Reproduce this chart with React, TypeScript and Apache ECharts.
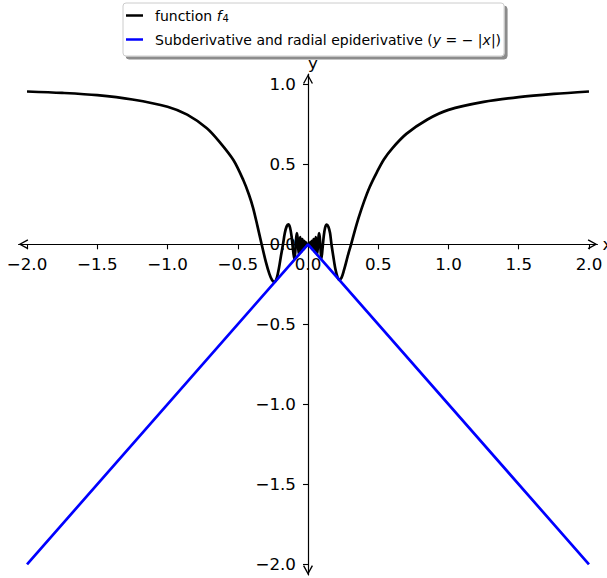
import React, { useEffect, useRef } from 'react';
import * as echarts from 'echarts';

// function f4
const f4X = [
  -2.0, -1.75, -1.5, -1.25, -1.0, -0.86, -0.72, -0.63, -0.53, -0.46, -0.42, -0.39, -0.36, -0.33,
  -0.30, -0.275, -0.255, -0.238, -0.222, -0.207, -0.192, -0.178, -0.165, -0.152, -0.14, -0.128,
  -0.117, -0.107, -0.097, -0.09, -0.084, -0.079, -0.074, -0.069, -0.064, -0.06, -0.056, -0.052,
  -0.048, -0.044, -0.04, -0.036, -0.032, -0.028, -0.024, -0.02, -0.016, -0.012, -0.008, -0.004, 0,
  0.004, 0.008, 0.012, 0.016, 0.02, 0.024, 0.028, 0.032, 0.036, 0.04, 0.044, 0.048, 0.052, 0.056,
  0.06, 0.064, 0.069, 0.074, 0.079, 0.084, 0.09, 0.095, 0.103, 0.112, 0.122, 0.133, 0.145, 0.157,
  0.167, 0.18, 0.195, 0.21, 0.223, 0.238, 0.255, 0.275, 0.29, 0.307, 0.33, 0.36, 0.40, 0.44, 0.49,
  0.54, 0.6, 0.7, 0.85, 1.0, 1.25, 1.5, 1.75, 2.0,
];
const f4Y = [
  0.955, 0.946, 0.932, 0.905, 0.86, 0.81, 0.725, 0.64, 0.525, 0.40, 0.31, 0.225, 0.115, 0.0,
  -0.11, -0.185, -0.225, -0.236, -0.21, -0.15, -0.07, 0.0, 0.07, 0.112, 0.124, 0.105,
  0.05, -0.03, -0.094, -0.04, 0.04, 0.07, 0.04, -0.03, -0.064, -0.01, 0.045, 0.02,
  -0.048, 0.0, 0.032, 0.0, -0.032, 0.022, -0.024, 0.016, -0.016, 0.01, -0.008, 0.003, 0.0,
  0.003, -0.008, 0.01, -0.016, 0.016, -0.024, 0.022, -0.032, 0.0, 0.032, 0.0, -0.048, 0.02, 0.045,
  -0.01, -0.064, -0.03, 0.04, 0.07, 0.04, -0.04, -0.092, -0.03, 0.05, 0.105, 0.123, 0.11, 0.07,
  0.0, -0.075, -0.155, -0.205, -0.222, -0.21, -0.165, -0.1, -0.05, 0.0, 0.075, 0.165, 0.27, 0.36, 0.45,
  0.53, 0.60, 0.69, 0.78, 0.84, 0.89, 0.92, 0.94, 0.955,
];

// Subderivative and radial epiderivative y = -|x|
const subX = [-2, 0, 2];
const subY = [-2, 0, -2];

const xTicks = [-2, -1.5, -1, -0.5, 0, 0.5, 1, 1.5, 2];
const yTicks = [-2, -1.5, -1, -0.5, 0, 0.5, 1];
const X_MIN = -2.06;
const X_MAX = 2.06;
const Y_MIN = -2.066;
const Y_MAX = 1.063;

const FONT = 'DejaVu Sans';
const ARROW = 'path://M5,0 L10,9 L8.8,9.7 L5,2.6 L1.2,9.7 L0,9 Z';

const fmt = (v: number) => (v < 0 ? '\u2212' + Math.abs(v).toFixed(1) : v.toFixed(1));

export default function App() {
  const ref = useRef<HTMLDivElement>(null);
  useEffect(() => {
    const chart = echarts.init(ref.current!, null, { renderer: 'svg' });
    const axisCommon = (ticks: number[]) => ({
      type: 'value',
      splitLine: { show: false },
      axisTick: { show: true, length: 5, lineStyle: { color: '#000', width: 1.1 }, customValues: ticks },
      axisLabel: {
        customValues: ticks,
        formatter: fmt,
        fontFamily: FONT,
        fontSize: 16.7,
        lineHeight: 16.7,
        color: '#000',
      },
      axisLine: {
        onZero: false,
        lineStyle: { color: '#000', width: 1.2 },
        symbol: [ARROW, ARROW],
        symbolSize: [10, 9.7],
        symbolOffset: [4.8, -4.8],
      },
    });
    const xa: any = axisCommon(xTicks);
    xa.position = 'bottom';
    xa.min = X_MIN;
    xa.max = X_MAX;
    xa.axisLabel.margin = 11;
    xa.name = 'x';
    xa.nameLocation = 'end';
    xa.nameGap = 5;
    xa.nameTextStyle = { fontFamily: FONT, fontSize: 16.7, lineHeight: 16.7, color: '#000', verticalAlign: 'middle', padding: [0, 0, 5, 0] };
    const ya: any = axisCommon(yTicks);
    ya.position = 'left';
    ya.min = Y_MIN;
    ya.max = Y_MAX;
    ya.axisLabel.margin = 12;
    ya.name = 'y';
    ya.nameLocation = 'end';
    ya.nameGap = 3;
    ya.nameTextStyle = { fontFamily: FONT, fontSize: 16.7, lineHeight: 16.7, color: '#000', align: 'left', verticalAlign: 'bottom' };

    const rich = {
      n: { fontFamily: FONT, fontSize: 14, color: '#000' },
      i: { fontFamily: FONT, fontSize: 14, color: '#000', fontStyle: 'italic' },
      s: { fontFamily: FONT, fontSize: 10, lineHeight: 10, color: '#000', padding: [6, 0, 0, 1] },
    };

    chart.setOption({
      animation: false,
      backgroundColor: '#fff',
      grid: { left: 18.6, right: 9.6, top: 74.2, bottom: 3.1, outerBoundsMode: 'none' },
      legend: {
        data: ['f4', 'sub'],
        orient: 'vertical',
        left: 123,
        top: 3,
        icon: 'rect',
        itemWidth: 17,
        itemHeight: 2.5,
        itemGap: 7,
        padding: [4, 3, 8, 3],
        backgroundColor: '#fff',
        borderColor: '#cccccc',
        borderWidth: 1,
        borderRadius: 3,
        shadowColor: 'rgba(0,0,0,0.45)',
        shadowOffsetX: 3,
        shadowOffsetY: 3,
        shadowBlur: 0,
        selectedMode: false,
        textStyle: { fontFamily: FONT, fontSize: 14, lineHeight: 17, color: '#000', padding: [0, 0, 0, 7], rich },
        formatter: (name: string) =>
          name === 'f4'
            ? '{n|function }{i|f}{s|4}'
            : '{n|Subderivative and radial epiderivative (}{i|y}{n| = \u2212 |}{i|x}{n||)}',
      },
      xAxis: xa,
      yAxis: ya,
      series: [
        {
          name: 'f4',
          type: 'line',
          data: f4X.map((x, i) => [x, f4Y[i]]),
          showSymbol: false,
          symbol: 'none',
          smooth: 0.3,
          lineStyle: { color: '#000', width: 2.7 },
          itemStyle: { color: '#000' },
        },
        {
          name: 'sub',
          type: 'line',
          data: subX.map((x, i) => [x, subY[i]]),
          showSymbol: false,
          symbol: 'none',
          lineStyle: { color: '#0000ff', width: 2.7 },
          itemStyle: { color: '#0000ff' },
        },
      ],
    });
    // move both axes (line, ticks, labels) so they cross at the origin
    const origin = chart.convertToPixel({ gridIndex: 0 }, [0, 0]) as number[];
    const corner = chart.convertToPixel({ gridIndex: 0 }, [X_MIN, Y_MIN]) as number[];
    chart.setOption({
      xAxis: { offset: origin[1] - corner[1] },
      yAxis: { offset: corner[0] - origin[0] },
    });
    return () => chart.dispose();
  }, []);
  return (
    <div
      ref={ref}
      style={{ position: 'absolute', left: 0, top: 0, width: 607, height: 578, background: '#fff' }}
    />
  );
}
